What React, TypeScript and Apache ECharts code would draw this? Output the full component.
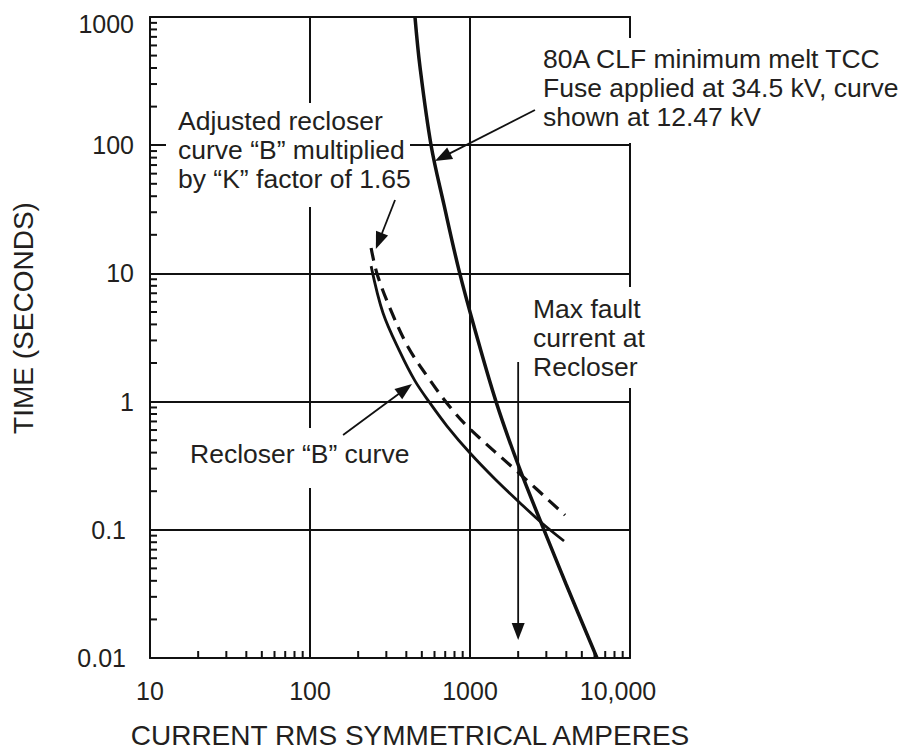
import React, { useEffect, useRef } from 'react';
import * as echarts from 'echarts';

// Axis decades and their printed labels
const xDecades = [10, 100, 1000, 10000];
const xTickLabels = ['10', '100', '1000', '10,000'];
const yDecades = [0.01, 0.1, 1, 10, 100, 1000];
const yTickLabels = ['0.01', '0.1', '1', '10', '100', '1000'];
const minorSteps = [2, 3, 4, 5, 6, 7, 8, 9];

// 80A CLF minimum melt TCC (amperes, seconds)
const fuseAmps = [453, 487, 571, 688, 853, 1075, 1454, 2024, 2900, 3981, 6220];
const fuseSecs = [1000, 407, 100, 34.2, 10.6, 3.62, 1.0, 0.309, 0.1, 0.0378, 0.01];

// Recloser "B" curve
const recloserAmps = [241, 286, 365, 453, 562, 718, 1000, 1432, 2024, 2859, 3869];
const recloserSecs = [11.4, 4.91, 2.44, 1.45, 0.975, 0.645, 0.397, 0.249, 0.165, 0.111, 0.0818];

// Adjusted recloser curve (K factor 1.65)
const adjustedAmps = [241, 262, 316, 410, 562, 750, 1000, 2024, 3925];
const adjustedSecs = [15.8, 10, 5.37, 2.67, 1.47, 0.908, 0.611, 0.277, 0.13];

// Callout arrows: [fromAmps, fromSecs, toAmps, toSecs]
const calloutArrows = [
  [2547, 188, 604, 75.4],
  [340, 37.4, 258, 15.5],
  [161, 0.549, 434, 1.372],
  [2000, 2.04, 2000, 0.0138],
];

const xMinorTicks = xDecades.slice(0, -1).flatMap((d) => minorSteps.map((m) => d * m));
const yMinorTicks = yDecades.slice(0, -1).flatMap((d) => minorSteps.map((m) => +(d * m).toPrecision(3)));

const FONT = "'Liberation Sans', Arial, Helvetica, sans-serif";
const INK = '#111';
const TEXT = '#231f20';

const decadeIndex = (arr: number[], v: number) => {
  const e = Math.round(Math.log10(v));
  return arr.findIndex((d) => Math.round(Math.log10(d)) === e);
};

export default function App() {
  const ref = useRef<HTMLDivElement>(null);

  useEffect(() => {
    document.body.style.margin = '0';
    const chart = echarts.init(ref.current!, null, { renderer: 'svg' });

    const labelBase = { fontFamily: FONT, fontSize: 25, color: TEXT };

    const textLine = (text: string, x: number, y: number, extra: any = {}) => ({
      type: 'text',
      x,
      y,
      z: 1,
      style: {
        text,
        fill: TEXT,
        fontFamily: FONT,
        fontSize: 26.5,
        align: 'left',
        verticalAlign: 'middle',
        ...extra,
      },
    });
    const mask = (x: number, y: number, width: number, height: number) => ({
      type: 'rect',
      z: 1,
      shape: { x, y, width, height },
      style: { fill: '#fff' },
    });

    const option: any = {
      animation: false,
      backgroundColor: '#fff',
      grid: { left: 150, top: 17, width: 480, height: 641, containLabel: false },
      xAxis: [
        {
          type: 'log',
          logBase: 10,
          min: 10,
          max: 10000,
          position: 'bottom',
          axisLine: { show: true, lineStyle: { color: INK, width: 2 } },
          axisTick: { show: false },
          splitLine: { show: true, lineStyle: { color: INK, width: 2 } },
          axisLabel: {
            ...labelBase,
            margin: 20,
            formatter: (v: number) => {
              const t = xTickLabels[decadeIndex(xDecades, v)] ?? '';
              return t === '10,000' ? `{last|${t}}` : t;
            },
            rich: { last: { ...labelBase, padding: [0, 24, 0, 0] } },
          },
        },
        {
          type: 'log',
          logBase: 10,
          min: 10,
          max: 10000,
          position: 'top',
          axisLine: { show: true, lineStyle: { color: INK, width: 2 } },
          axisTick: { show: false },
          axisLabel: { show: false },
          splitLine: { show: false },
        },
      ],
      yAxis: [
        {
          type: 'log',
          logBase: 10,
          min: 0.01,
          max: 1000,
          position: 'left',
          axisLine: { show: true, lineStyle: { color: INK, width: 2 } },
          axisTick: { show: true, inside: true, length: 15, lineStyle: { color: INK, width: 2 } },
          splitLine: { show: true, lineStyle: { color: INK, width: 2 } },
          axisLabel: {
            ...labelBase,
            margin: 16,
            formatter: (v: number) => {
              const t = yTickLabels[decadeIndex(yDecades, v)] ?? '';
              if (t === '1000') return `{top|${t}}`;
              if (t.includes('.')) return `{dec|${t}}`;
              return t;
            },
            rich: {
              top: { ...labelBase, padding: [14, 0, 0, 0] },
              dec: { ...labelBase, padding: [0, 8, 0, 0] },
            },
          },
        },
        {
          type: 'log',
          logBase: 10,
          min: 0.01,
          max: 1000,
          position: 'right',
          axisLine: { show: true, lineStyle: { color: INK, width: 2 } },
          axisTick: { show: false },
          axisLabel: { show: false },
          splitLine: { show: false },
        },
      ],
      series: [
        {
          type: 'custom',
          name: 'x minor ticks',
          data: xMinorTicks.map((v) => [v, 0.01]),
          z: 2,
          renderItem: (_p: any, api: any) => {
            const p = api.coord([api.value(0), api.value(1)]);
            return {
              type: 'line',
              shape: { x1: p[0], y1: p[1], x2: p[0], y2: p[1] - 7 },
              style: { stroke: INK, lineWidth: 2 },
            };
          },
        },
        {
          type: 'custom',
          name: 'y minor ticks',
          data: yMinorTicks.map((v) => [10, v]),
          z: 2,
          renderItem: (_p: any, api: any) => {
            const p = api.coord([api.value(0), api.value(1)]);
            return {
              type: 'line',
              shape: { x1: p[0], y1: p[1], x2: p[0] + 7, y2: p[1] },
              style: { stroke: INK, lineWidth: 2 },
            };
          },
        },
        {
          type: 'line',
          name: '80A CLF minimum melt',
          data: fuseAmps.map((a, i) => [a, fuseSecs[i]]),
          smooth: 0.35,
          showSymbol: false,
          lineStyle: { color: INK, width: 3.5 },
          z: 3,
        },
        {
          type: 'line',
          name: 'Recloser B',
          data: recloserAmps.map((a, i) => [a, recloserSecs[i]]),
          smooth: 0.35,
          showSymbol: false,
          lineStyle: { color: INK, width: 2.8 },
          z: 3,
        },
        {
          type: 'line',
          name: 'Adjusted recloser',
          data: adjustedAmps.map((a, i) => [a, adjustedSecs[i]]),
          smooth: 0.35,
          showSymbol: false,
          lineStyle: { color: INK, width: 3.2, type: [13, 8] },
          z: 3,
        },
        {
          type: 'custom',
          name: 'callouts',
          data: calloutArrows,
          z: 4,
          renderItem: (_p: any, api: any) => {
            const a = api.coord([api.value(0), api.value(1)]);
            const b = api.coord([api.value(2), api.value(3)]);
            const dx = b[0] - a[0];
            const dy = b[1] - a[1];
            const len = Math.hypot(dx, dy) || 1;
            const ux = dx / len;
            const uy = dy / len;
            const headLen = 17;
            const half = 6.5;
            const bx = b[0] - ux * headLen;
            const by = b[1] - uy * headLen;
            return {
              type: 'group',
              children: [
                {
                  type: 'line',
                  shape: { x1: a[0], y1: a[1], x2: bx + ux * 2, y2: by + uy * 2 },
                  style: { stroke: INK, lineWidth: 1.8 },
                },
                {
                  type: 'polygon',
                  shape: {
                    points: [
                      [b[0], b[1]],
                      [bx - uy * half, by + ux * half],
                      [bx + uy * half, by - ux * half],
                    ],
                  },
                  style: { fill: INK },
                },
              ],
            };
          },
        },
      ],
      graphic: [
        mask(166, 103, 244, 104),
        mask(538, 38, 200, 105),
        mask(180, 428, 235, 60),
        mask(528, 287, 200, 101),
        textLine('80A CLF minimum melt TCC', 543, 59),
        textLine('Fuse applied at 34.5 kV, curve', 543, 88),
        textLine('shown at 12.47 kV', 543, 117),
        textLine('Adjusted recloser', 178, 121),
        textLine('curve \u201cB\u201d multiplied', 178, 150),
        textLine('by \u201cK\u201d factor of 1.65', 178, 179),
        textLine('Recloser \u201cB\u201d curve', 190, 454),
        textLine('Max fault', 533, 309),
        textLine('current at', 533, 338),
        textLine('Recloser', 533, 367),
        {
          type: 'text',
          x: 23,
          y: 318,
          rotation: Math.PI / 2,
          z: 1,
          style: {
            text: 'TIME (SECONDS)',
            fill: TEXT,
            fontFamily: FONT,
            fontSize: 28,
            align: 'center',
            verticalAlign: 'middle',
          },
        },
        {
          type: 'text',
          x: 410,
          y: 735,
          z: 1,
          style: {
            text: 'CURRENT RMS SYMMETRICAL AMPERES',
            fill: TEXT,
            fontFamily: FONT,
            fontSize: 28,
            align: 'center',
            verticalAlign: 'middle',
          },
        },
      ],
    };

    chart.setOption(option);
    return () => chart.dispose();
  }, []);

  return <div ref={ref} style={{ width: 904, height: 749 }} />;
}
